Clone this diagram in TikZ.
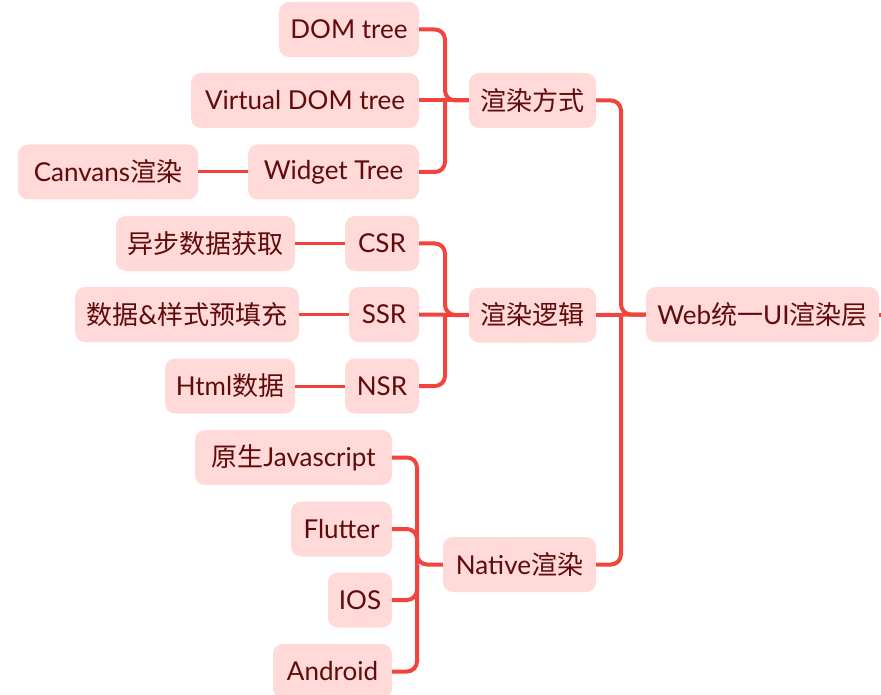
\documentclass[tikz,border=0pt]{standalone}
\usepackage{fontspec}
\setmainfont{Lato}
\newfontfamily\cjk{Noto Sans CJK SC}
\definecolor{boxfill}{RGB}{255,218,216}
\definecolor{txt}{RGB}{96,10,10}
\definecolor{linec}{RGB}{242,68,60}
\begin{document}
\begin{tikzpicture}[x=1pt,y=-1pt,
  box/.style={fill=boxfill, rounded corners=10pt, text=txt, font=\fontsize{26}{30}\selectfont, inner sep=0pt, minimum height=55pt},
  link/.style={draw=linec, line width=4pt, rounded corners=10pt},
  leaflink/.style={draw=linec, line width=3pt}]
\useasboundingbox (0,0) rectangle (881,695);
% level 1
\node[box, minimum width=233pt] (root) at (762.5,314.5) {Web{\cjk 统一}UI{\cjk 渲染层}};
% level 2
\node[box, minimum width=127pt] (fs) at (532.5,100.5) {\cjk 渲染方式};
\node[box, minimum width=127pt] (lj) at (532.5,315) {\cjk 渲染逻辑};
\node[box, minimum width=153pt] (nat) at (519.5,564.5) {Native{\cjk 渲染}};
% group 1
\node[box, minimum width=140pt] (dom) at (349,29.5) {DOM tree};
\node[box, minimum width=228pt] (vdom) at (305,100.5) {Virtual DOM tree};
\node[box, minimum width=171pt] (wt) at (333.5,172) {Widget Tree};
\node[box, minimum width=180pt] (cv) at (108,172) {Canvans{\cjk 渲染}};
% group 2
\node[box, minimum width=74pt] (csr) at (382,243.5) {CSR};
\node[box, minimum width=70pt] (ssr) at (384,314.5) {SSR};
\node[box, minimum width=74pt] (nsr) at (382,386) {NSR};
\node[box, minimum width=179pt] (yb) at (205.5,243.5) {\cjk 异步数据获取};
\node[box, minimum width=224pt] (sj) at (187,314.5) {{\cjk 数据}\&{\cjk 样式预填充}};
\node[box, minimum width=130pt] (html) at (230,386) {Html{\cjk 数据}};
% group 3
\node[box, minimum width=197pt] (js) at (293.5,457.5) {{\cjk 原生}Javascript};
\node[box, minimum width=101pt] (fl) at (341.5,529) {Flutter};
\node[box, minimum width=64pt] (ios) at (360,600) {IOS};
\node[box, minimum width=119pt] (and) at (332.5,671.5) {Android};
% bracket points
\coordinate (b0) at (621,314.5);
\coordinate (b1) at (445,100.5);
\coordinate (b2) at (445,315);
\coordinate (b3) at (417,564.5);
\coordinate (stub) at (895,314.5);
% root links
\draw[link] (fs.east) -| (b0) -- (root.west);
\draw[link] (lj.east) -- (root.west);
\draw[link] (nat.east) -| (b0);
\draw[link] (root.east) -- (stub);
% group 1 links
\draw[link] (dom.east) -| (b1) -- (fs.west);
\draw[link] (vdom.east) -- (fs.west);
\draw[link] (wt.east) -| (b1);
\draw[leaflink] (cv.east) -- (wt.west);
% group 2 links
\draw[link] (csr.east) -| (b2) -- (lj.west);
\draw[link] (ssr.east) -- (lj.west);
\draw[link] (nsr.east) -| (b2);
\draw[leaflink] (yb.east) -- (csr.west);
\draw[leaflink] (sj.east) -- (ssr.west);
\draw[leaflink] (html.east) -- (nsr.west);
% group 3 links
\draw[link] (js.east) -| (b3) -- (nat.west);
\draw[link] (fl.east) -| (b3);
\draw[link] (ios.east) -| (b3);
\draw[link] (and.east) -| (b3);
\end{tikzpicture}
\end{document}
